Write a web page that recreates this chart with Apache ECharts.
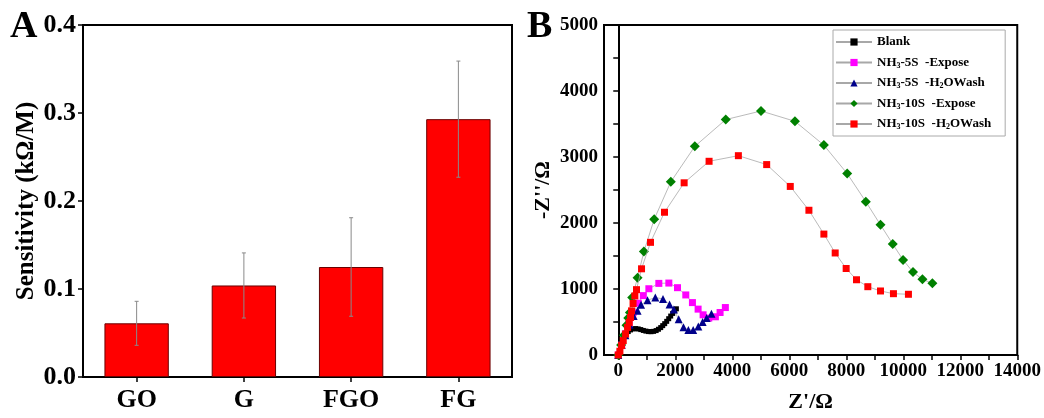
<!DOCTYPE html>
<html>
<head>
<meta charset="utf-8">
<script src="https://cdn.jsdelivr.net/npm/echarts@6/dist/echarts.min.js"></script>
<style>
html,body{margin:0;padding:0;background:#fff;}
#c{width:1044px;height:418px;}
</style>
</head>
<body>
<div id="c"></div>
<script>
// ---------- Panel A data ----------
const categories = ['GO', 'G', 'FGO', 'FG'];
const sensitivity = [0.061, 0.104, 0.125, 0.293];
const sensitivityErr = [0.025, 0.037, 0.056, 0.066];

// ---------- Panel B data ([Z', -Z'']) ----------
const seriesNames = ['Blank', 'NH3-5S  -Expose', 'NH3-5S  -H2OWash', 'NH3-10S  -Expose', 'NH3-10S  -H2OWash'];
const blank = [[0,0],[40,50],[80,110],[120,170],[170,230],[220,280],[280,320],[350,355],[430,380],[520,395],[610,400],[700,395],[790,385],[880,372],[970,362],[1060,355],[1150,353],[1240,358],[1330,370],[1410,390],[1490,415],[1560,445],[1630,475],[1700,510],[1770,550],[1840,590],[1910,630],[1980,670],[2040,700]];
const nh3_5s_expose = [[0,0],[120,150],[250,320],[380,480],[520,640],[700,785],[880,900],[1074,1004],[1424,1085],[1775,1090],[2078,1020],[2370,910],[2603,794],[2802,695],[2977,609],[3176,559],[3408,579],[3573,644],[3758,719]];
const nh3_5s_wash = [[0,0],[120,150],[250,300],[400,460],[540,590],[677,669],[800,760],[1027,830],[1300,870],[1570,850],[1800,765],[1950,690],[2120,540],[2290,420],[2460,380],[2630,380],[2810,430],[2960,500],[3100,560],[3270,625]];
const nh3_10s_expose = [[0,0],[100,150],[200,300],[290,450],[350,560],[409,644],[490,870],[677,1170],[900,1567],[1261,2057],[1845,2624],[2686,3161],[3771,3567],[5009,3697],[6200,3541],[7215,3180],[8032,2749],[8687,2323],[9201,1972],[9632,1681],[9993,1441],[10343,1256],[10673,1146],[11023,1086]];
const nh3_10s_wash = [[0,0],[58,57],[117,143],[175,218],[257,318],[327,418],[385,494],[432,569],[467,669],[520,780],[583,895],[640,990],[817,1306],[1132,1707],[1623,2163],[2312,2609],[3187,2935],[4215,3020],[5208,2885],[6036,2554],[6690,2193],[7215,1832],[7612,1546],[7997,1311],[8360,1140],[8757,1035],[9201,970],[9656,929],[10182,920]];
const xTickValuesB = [0,1000,2000,3000,4000,5000,6000,7000,8000,9000,10000,11000,12000,13000,14000];
const xLabelValuesB = [0,2000,4000,6000,8000,10000,12000,14000];

const FONT = "'Liberation Serif','Times New Roman',serif";
const chart = echarts.init(document.getElementById('c'), null, {renderer: 'canvas'});

const axisCommon = {
  axisLine: {show: true, lineStyle: {color: '#000', width: 2}},
  axisTick: {show: true, length: 5, lineStyle: {color: '#000', width: 1.5}},
  splitLine: {show: false}
};

const bColors = ['#000000', '#ff00ff', '#00008b', '#008000', '#ff0000'];
const bSymbols = ['rect', 'rect', 'triangle', 'diamond', 'rect'];
const bSizes = [5, 7, 8, 10, 7];
const bData = [blank, nh3_5s_expose, nh3_5s_wash, nh3_10s_expose, nh3_10s_wash];

const option = {
  animation: false,
  backgroundColor: '#fff',
  textStyle: {fontFamily: FONT},
  grid: [
    {left: 83, right: 532, top: 25, bottom: 41, show: true, borderColor: '#000', borderWidth: 2},
    {left: 604, right: 26, top: 25, bottom: 58, show: true, borderColor: '#000', borderWidth: 2}
  ],
  xAxis: [
    Object.assign({}, axisCommon, {
      type: 'category', gridIndex: 0, data: categories,
      axisTick: {show: true, alignWithLabel: true, length: 5, lineStyle: {color: '#000', width: 1.5}},
      axisLabel: {fontFamily: FONT, fontWeight: 'bold', fontSize: 26, color: '#000', margin: 10}
    }),
    Object.assign({}, axisCommon, {
      type: 'value', gridIndex: 1, min: -500, max: 14000,
      axisTick: {show: true, length: 5, customValues: xTickValuesB, lineStyle: {color: '#000', width: 1.5}},
      axisLabel: {fontFamily: FONT, fontWeight: 'bold', fontSize: 19, color: '#000', margin: 7,
        customValues: xLabelValuesB, formatter: v => String(v)},
      name: "Z'/Ω", nameLocation: 'middle', nameGap: 36,
      nameTextStyle: {fontFamily: FONT, fontWeight: 'bold', fontSize: 22, color: '#000'}
    })
  ],
  yAxis: [
    Object.assign({}, axisCommon, {
      type: 'value', gridIndex: 0, min: 0, max: 0.4, interval: 0.1,
      axisLabel: {fontFamily: FONT, fontWeight: 'bold', fontSize: 26, color: '#000', margin: 7,
        formatter: v => v.toFixed(1)},
      name: 'Sensitivity (kΩ/M)', nameLocation: 'middle', nameGap: 44,
      nameTextStyle: {fontFamily: FONT, fontWeight: 'bold', fontSize: 25, color: '#000'}
    }),
    Object.assign({}, axisCommon, {
      type: 'value', gridIndex: 1, min: 0, max: 5000, interval: 500,
      axisLabel: {fontFamily: FONT, fontWeight: 'bold', fontSize: 19, color: '#000', margin: 6,
        formatter: v => (v % 1000 === 0 ? String(v) : '')},
      name: "-Z''/Ω", nameLocation: 'middle', nameGap: 50,
      nameTextStyle: {fontFamily: FONT, fontWeight: 'bold', fontSize: 22, color: '#000'}
    })
  ],
  legend: {
    orient: 'vertical', left: 833, top: 30,
    data: seriesNames,
    itemWidth: 36, itemHeight: 9, itemGap: 6.5,
    padding: [5, 14, 5, 2],
    borderColor: '#aaa', borderWidth: 1, backgroundColor: '#fff',
    textStyle: {fontFamily: FONT, fontWeight: 'bold', fontSize: 13, color: '#000', lineHeight: 14,
      rich: {s: {fontFamily: FONT, fontWeight: 'bold', fontSize: 8, color: '#000', verticalAlign: 'bottom', lineHeight: 8, padding: [6, 0, 0, 0]}}},
    formatter: n => n.replace('NH3', 'NH{s|3}').replace('H2O', 'H{s|2}O')
  },
  graphic: [
    {type: 'text', left: 10, top: 8, style: {text: 'A', font: `bold 38px ${FONT}`, fill: '#000'}},
    {type: 'text', left: 527, top: 8, style: {text: 'B', font: `bold 38px ${FONT}`, fill: '#000'}}
  ],
  series: [
    {
      type: 'bar', xAxisIndex: 0, yAxisIndex: 0, data: sensitivity, barWidth: '60%',
      itemStyle: {color: '#ff0000', borderColor: '#6b0000', borderWidth: 1}
    },
    {
      type: 'custom', xAxisIndex: 0, yAxisIndex: 0, z: 5,
      data: sensitivity.map((v, i) => [i, v - sensitivityErr[i], v + sensitivityErr[i]]),
      renderItem: (params, api) => {
        const lo = api.coord([api.value(0), api.value(1)]);
        const hi = api.coord([api.value(0), api.value(2)]);
        const st = {stroke: '#8a8a8a', lineWidth: 1};
        return {type: 'group', children: [
          {type: 'line', shape: {x1: hi[0], y1: hi[1], x2: lo[0], y2: lo[1]}, style: st},
          {type: 'line', shape: {x1: hi[0] - 2, y1: hi[1], x2: hi[0] + 2, y2: hi[1]}, style: st},
          {type: 'line', shape: {x1: lo[0] - 2, y1: lo[1], x2: lo[0] + 2, y2: lo[1]}, style: st}
        ]};
      }
    }
  ].concat(bData.map((d, i) => ({
    type: 'line', name: seriesNames[i], xAxisIndex: 1, yAxisIndex: 1, data: d,
    symbol: bSymbols[i], symbolSize: bSizes[i], showSymbol: true,
    lineStyle: {color: '#a8a8a8', width: 0.8},
    itemStyle: {color: bColors[i]},
    z: 3 + i
  })))
};
chart.setOption(option);
</script>
</body>
</html>
